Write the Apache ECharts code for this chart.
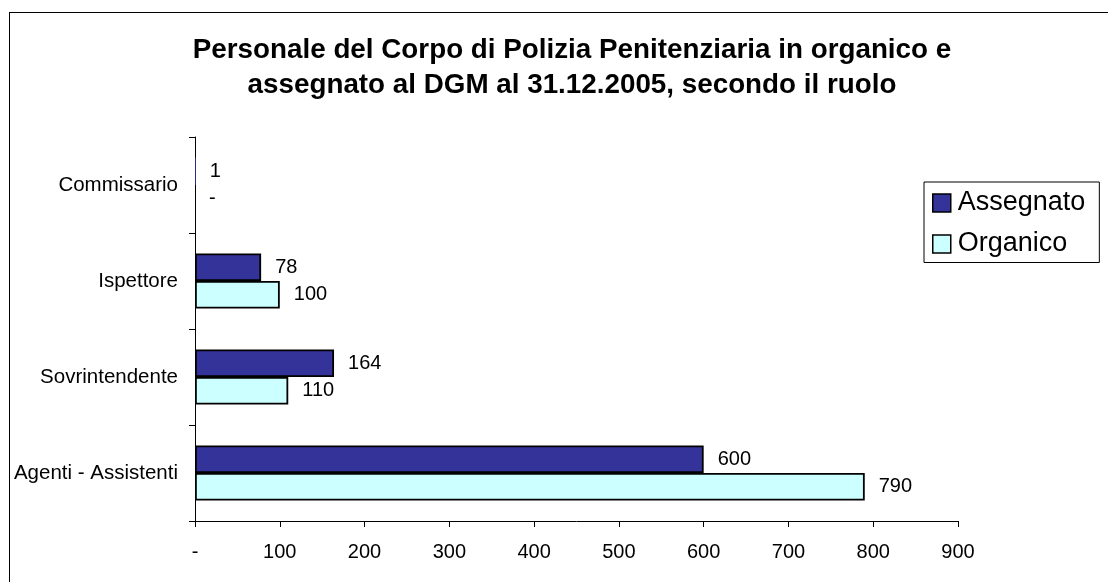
<!DOCTYPE html>
<html>
<head>
<meta charset="utf-8">
<script src="https://cdn.jsdelivr.net/npm/echarts@6/dist/echarts.min.js"></script>
<style>
html,body{margin:0;padding:0;background:#fff;}
#frame{position:absolute;left:9px;top:12px;width:1200px;height:700px;border:1.5px solid #000;box-sizing:border-box;}
#chart{position:absolute;left:0;top:0;width:1108px;height:582px;}
</style>
</head>
<body>
<div id="frame"></div>
<div id="chart"></div>
<script>
const categories = ['Agenti - Assistenti', 'Sovrintendente', 'Ispettore', 'Commissario'];
const assegnato = [600, 164, 78, 1];
const organico = [790, 110, 100, 0];
const xTicks = { min: 0, max: 900, interval: 100 };
const titleLines = ['Personale del Corpo di Polizia Penitenziaria in organico e', 'assegnato al DGM al 31.12.2005, secondo il ruolo'];

const fontFamily = '"Liberation Sans", Arial, sans-serif';
const fmt = v => (v === 0 ? '-' : String(v));
const toItems = arr => arr.map(v => (v < 2 ? { value: v, itemStyle: { borderWidth: 0 } } : v));
const chart = echarts.init(document.getElementById('chart'), null, { renderer: 'canvas' });

const labelOpt = {
  show: true,
  position: 'right',
  distance: 14,
  color: '#000',
  fontFamily: fontFamily,
  fontSize: 20,
  formatter: p => fmt(p.value)
};

chart.setOption({
  backgroundColor: 'transparent',
  animation: false,
  title: {
    text: titleLines.join('\n'),
    left: 567,
    textAlign: 'center',
    top: 28,
    textStyle: { fontFamily: fontFamily, fontSize: 27.8, fontWeight: 'bold', color: '#000', lineHeight: 35 }
  },
  legend: {
    data: ['Assegnato', 'Organico'],
    orient: 'vertical',
    left: 924,
    top: 182,
    padding: [6, 14, 3.5, 8],
    borderColor: '#000',
    borderWidth: 1,
    itemGap: 11,
    itemWidth: 18,
    itemHeight: 18,
    itemStyle: { borderColor: '#000', borderWidth: 1.5 },
    icon: 'rect',
    textStyle: { fontFamily: fontFamily, fontSize: 27, lineHeight: 30, color: '#000', padding: [0, 0, 0, 2] }
  },
  grid: { left: 195, right: 150, top: 137, bottom: 61, containLabel: false },
  xAxis: {
    type: 'value',
    min: xTicks.min,
    max: xTicks.max,
    interval: xTicks.interval,
    axisLine: { show: true, lineStyle: { color: '#000', width: 1 } },
    axisTick: { show: true, length: 6, lineStyle: { color: '#000' } },
    splitLine: { show: false },
    axisLabel: { color: '#000', fontFamily: fontFamily, fontSize: 20, margin: 21, formatter: v => fmt(v) }
  },
  yAxis: {
    type: 'category',
    data: categories,
    axisLine: { show: true, lineStyle: { color: '#000', width: 1 } },
    axisTick: { show: true, length: 6, alignWithLabel: false, lineStyle: { color: '#000' } },
    axisLabel: { color: '#000', fontFamily: fontFamily, fontSize: 20.5, margin: 17 }
  },
  series: [
    {
      name: 'Assegnato',
      type: 'bar',
      data: toItems(assegnato),
      barWidth: 27.5,
      barGap: '0%',
      itemStyle: { color: '#333399', borderColor: '#000', borderWidth: 1.8 },
      label: labelOpt
    },
    {
      name: 'Organico',
      type: 'bar',
      data: toItems(organico),
      barWidth: 27.5,
      barGap: '0%',
      itemStyle: { color: '#CCFFFF', borderColor: '#000', borderWidth: 1.8 },
      label: labelOpt
    }
  ]
});
</script>
</body>
</html>
